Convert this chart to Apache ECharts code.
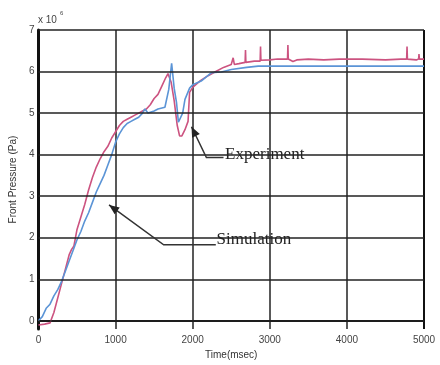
<!DOCTYPE html>
<html><head><meta charset="utf-8">
<script src="https://cdn.jsdelivr.net/npm/echarts@6/dist/echarts.min.js"></script>
<style>html,body{margin:0;padding:0;background:#fff}#c{width:440px;height:365px}</style>
</head><body><div id="c"></div>
<script>
// Time (msec), Front Pressure (x10^6 Pa)
const experimentT = [0,80,150,200,250,300,350,400,430,460,500,550,600,650,700,750,800,850,900,950,1000,1050,1100,1150,1200,1250,1300,1350,1400,1450,1500,1550,1600,1650,1680,1720,1760,1800,1830,1860,1900,1940,1960,2000,2100,2200,2300,2400,2500,2525,2540,2600,2680,2685,2690,2800,2875,2880,2885,3000,3100,3230,3235,3240,3300,3350,3500,3700,3900,4000,4200,4500,4700,4775,4780,4785,4900,4930,4935,4940,5000];
const experimentV = [-0.1,-0.08,-0.05,0.2,0.55,0.9,1.25,1.6,1.72,1.8,2.2,2.5,2.8,3.15,3.45,3.7,3.9,4.07,4.2,4.4,4.55,4.7,4.8,4.85,4.9,4.95,5.0,5.05,5.1,5.2,5.35,5.45,5.65,5.85,5.95,5.75,5.3,4.7,4.45,4.45,4.6,4.8,5.5,5.62,5.78,5.9,6.0,6.1,6.17,6.33,6.17,6.19,6.22,6.52,6.22,6.25,6.25,6.6,6.27,6.28,6.3,6.3,6.64,6.3,6.24,6.28,6.3,6.28,6.3,6.3,6.3,6.28,6.3,6.3,6.6,6.3,6.28,6.3,6.42,6.3,6.3];
const simulationT = [0,50,100,150,200,250,300,350,400,450,500,550,600,650,700,750,800,850,900,950,1000,1050,1100,1150,1200,1250,1300,1350,1380,1420,1500,1550,1640,1690,1727,1760,1790,1815,1840,1870,1900,1960,2000,2110,2240,2370,2500,2700,2850,3000,4000,5000];
const simulationV = [0,0.1,0.3,0.4,0.6,0.75,0.95,1.2,1.45,1.7,1.95,2.15,2.4,2.6,2.85,3.1,3.3,3.5,3.75,4.0,4.3,4.5,4.65,4.75,4.8,4.85,4.9,5.0,5.1,5.0,5.05,5.1,5.14,5.57,6.2,5.6,5.26,4.78,4.75,5.0,5.33,5.6,5.68,5.77,5.97,5.99,6.05,6.1,6.13,6.13,6.13,6.13];
const xTicks = [0,1000,2000,3000,4000,5000];
const yTicks = [0,1,2,3,4,5,6,7];
const yMin = -0.2;
// annotation anchors in data coordinates: [head, elbow, end], text anchor
const expArrow = [[1985,4.67],[2178,3.93],[2400,3.93]];
const expText = [2420,4.0];
const simArrow = [[915,2.79],[1624,1.83],[2300,1.83]];
const simText = [2310,1.95];

const chart = echarts.init(document.getElementById('c'));
const zip = (a,b)=>a.map((t,i)=>[t,b[i]]);
const FONT='Liberation Sans';
chart.setOption({
  animation:false,
  backgroundColor:'#fff',
  grid:{left:36,right:16,top:30,bottom:33},
  xAxis:{type:'value',min:xTicks[0],max:xTicks[xTicks.length-1],interval:1000,
    name:'Time(msec)',nameLocation:'middle',nameGap:18,
    nameTextStyle:{fontFamily:FONT,fontSize:10,color:'#333'},
    axisLine:{show:true,lineStyle:{color:'#111',width:2}},
    axisTick:{show:false},
    axisLabel:{fontFamily:FONT,fontSize:10,color:'#444',margin:6,formatter:v=>String(v)},
    splitLine:{show:true,lineStyle:{color:'#222',width:1.5}}},
  yAxis:{type:'value',min:yMin,max:yTicks[yTicks.length-1],
    name:'Front Pressure (Pa)',nameLocation:'middle',nameGap:17,
    nameTextStyle:{fontFamily:FONT,fontSize:10,color:'#333'},
    axisLine:{show:true,lineStyle:{color:'#111',width:3}},
    axisTick:{show:false},
    axisLabel:{fontFamily:FONT,fontSize:10,color:'#444',margin:4,customValues:yTicks,formatter:v=>String(v)},
    splitLine:{show:false}},
  series:[
    {type:'line',data:[],silent:true,
      markLine:{silent:true,symbol:'none',label:{show:false},lineStyle:{color:'#222',width:1.5,type:'solid'},
        data:yTicks.map(v=>({yAxis:v}))},z:1},
    {type:'line',data:zip(simulationT,simulationV),showSymbol:false,lineStyle:{color:'#5b94d6',width:1.6},z:3},
    {type:'line',data:zip(experimentT,experimentV),showSymbol:false,lineStyle:{color:'#cc5380',width:1.6},z:2},
    {type:'line',data:[[xTicks[xTicks.length-1],yMin],[xTicks[xTicks.length-1],yTicks[yTicks.length-1]]],showSymbol:false,lineStyle:{color:'#111',width:2},silent:true,z:1}
  ]
});

function px(p){return chart.convertToPixel({gridIndex:0},p);}
function arrow(pts){
  const P = pts.map(px);
  const h=P[0], e=P[1];
  const ang=Math.atan2(h[1]-e[1],h[0]-e[0]);
  const L=11,W=0.4;
  const a1=[h[0]-L*Math.cos(ang-W),h[1]-L*Math.sin(ang-W)];
  const a2=[h[0]-L*Math.cos(ang+W),h[1]-L*Math.sin(ang+W)];
  return [
    {type:'polyline',shape:{points:P},style:{stroke:'#333',lineWidth:1.5,fill:null},z:10},
    {type:'polygon',shape:{points:[h,a1,a2]},style:{fill:'#222'},z:10}
  ];
}
const et=px(expText), st=px(simText);
chart.setOption({graphic:[
  ...arrow(expArrow),...arrow(simArrow),
  {type:'text',x:et[0],y:et[1],style:{text:'Experiment',font:'17px "Liberation Serif"',fill:'#222',textVerticalAlign:'middle'},z:11},
  {type:'text',x:st[0],y:st[1],style:{text:'Simulation',font:'17px "Liberation Serif"',fill:'#222',textVerticalAlign:'middle'},z:11},
  {type:'text',x:38,y:20,style:{text:'x 10',font:'10px "Liberation Sans"',fill:'#444',textVerticalAlign:'middle'}},
  {type:'text',x:60,y:13,style:{text:'6',font:'6px "Liberation Sans"',fill:'#444',textVerticalAlign:'middle'}}
]});
</script></body></html>
